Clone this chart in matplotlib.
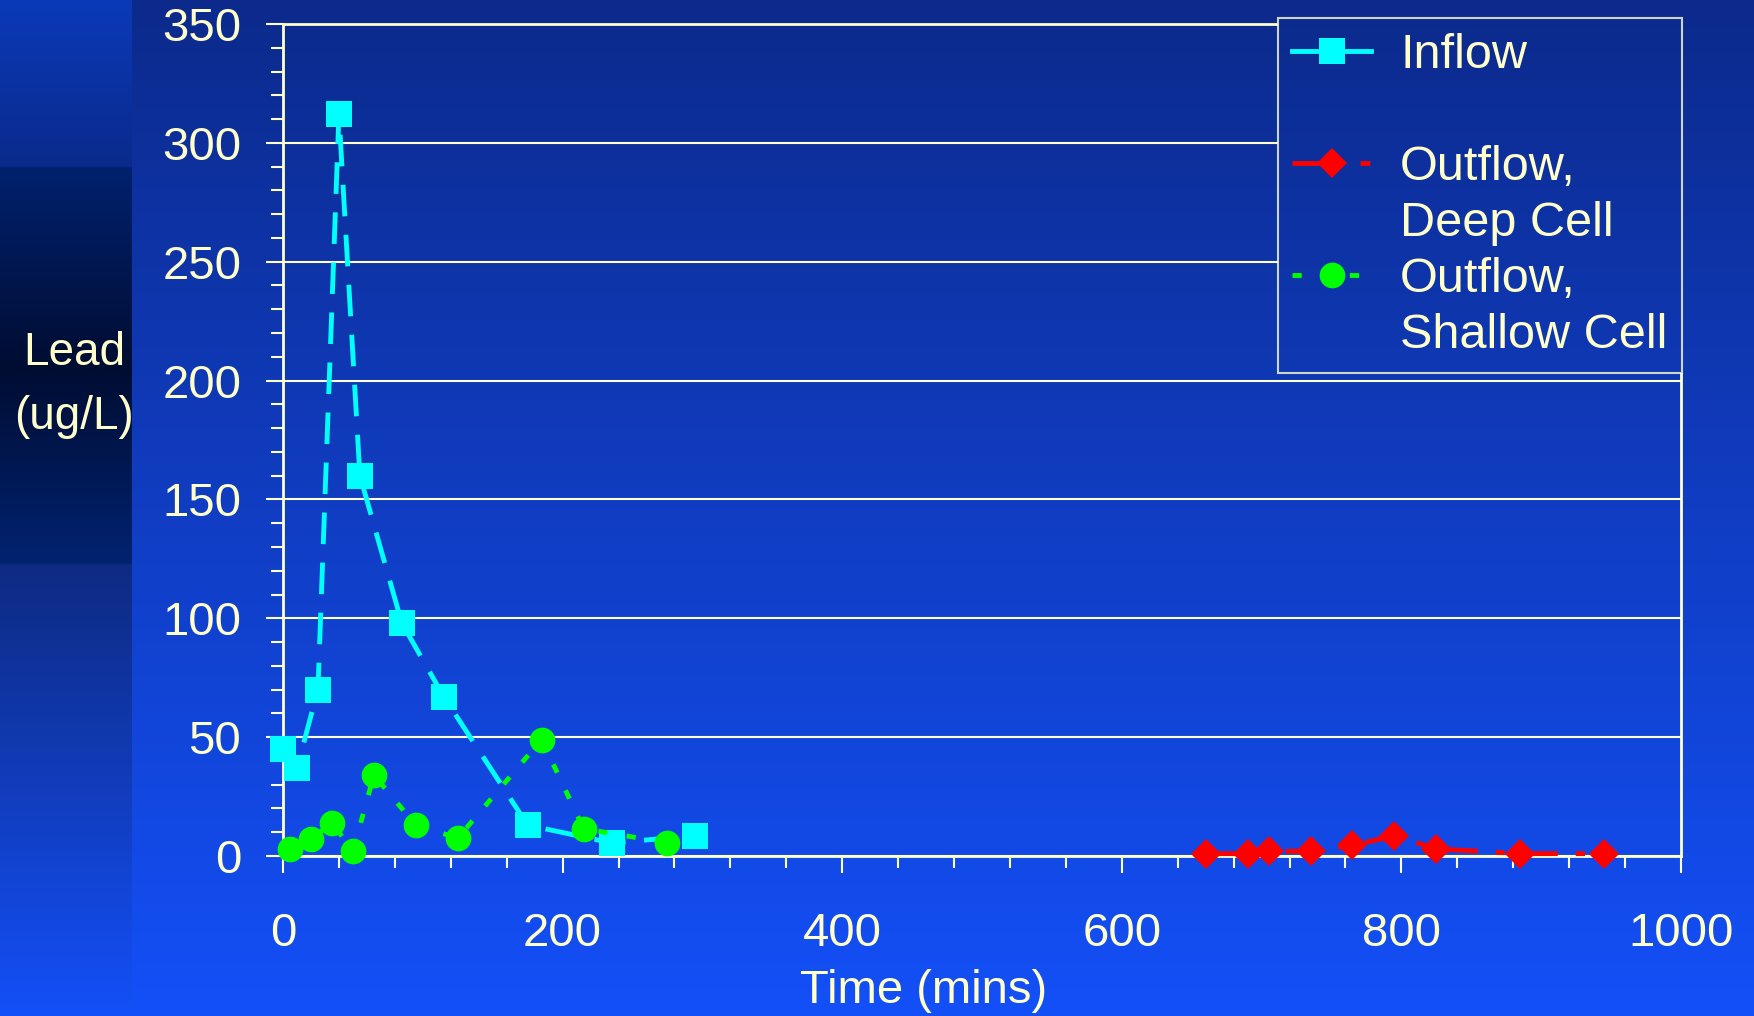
import numpy as np
import matplotlib
matplotlib.use('Agg')
import matplotlib.pyplot as plt
from matplotlib.lines import Line2D
from matplotlib.ticker import MultipleLocator

# 납 농도 (ug/L) 시간별 데이터
inflow_t = [0, 10, 25, 40, 55, 85, 115, 175, 235, 295]
inflow_pb = [45, 37, 70, 312, 160, 98, 67, 13, 5.5, 8.5]

deep_t = [660, 690, 705, 735, 765, 795, 825, 885, 945]
deep_pb = [1, 1, 2, 2, 4.5, 8.5, 3, 1, 1]

shallow_t = [5, 20, 35, 50, 65, 95, 125, 185, 215, 275]
shallow_pb = [3, 7, 14, 2, 34, 13, 7.5, 49, 11.5, 5.5]

labels = ['Inflow', ' ', 'Outflow,', 'Deep Cell', 'Outflow,', 'Shallow Cell']

CREAM = '#FFFFCC'
CYAN = '#00FFFF'
RED = '#FF0000'
GREEN = '#00FF00'

plt.rcParams['font.family'] = ['Liberation Sans', 'DejaVu Sans']

W, H = 1754, 1016


def background():
    # 슬라이드 배경 그라데이션 (왼쪽 띠는 따로)
    yy = np.arange(H)
    top = np.array([12, 42, 140])
    bot = np.array([20, 80, 248])
    main = top + (bot - top) * (yy / (H - 1))[:, None]
    sy = [0, 165, 168, 367, 562, 565, 1015]
    sr = [10, 11, 0, 0, 0, 14, 20]
    sg = [58, 42, 33, 13, 35, 42, 80]
    sb = [184, 140, 110, 50, 112, 130, 248]
    strip = np.stack([np.interp(yy, sy, sr), np.interp(yy, sy, sg), np.interp(yy, sy, sb)], axis=1)
    img = np.repeat(main[:, None, :], W, axis=1)
    img[:, :132] = strip[:, None, :]
    return img.astype(np.uint8)


bg_img = background()

fig = plt.figure(figsize=(W / 100, H / 100), dpi=100)
bg = fig.add_axes([0, 0, 1, 1], zorder=-1)
bg.imshow(bg_img, extent=(0, W, H, 0), aspect='auto')
bg.set_xlim(0, W)
bg.set_ylim(H, 0)
bg.axis('off')

ax = fig.add_axes([283 / W, 1 - 856 / H, 1398 / W, 832 / H])
ax.patch.set_visible(False)

LW = 3.5
ax.plot(inflow_t, inflow_pb, color=CYAN, lw=LW, ls=(0, (6.5, 3.8)),
        marker='s', ms=18.5, mew=0, zorder=3, clip_on=False)
ax.plot(deep_t, deep_pb, color=RED, lw=LW, ls=(0, (7.2, 3.7, 1.9, 3.7)),
        marker='D', ms=15, mew=0, zorder=4, clip_on=False)
ax.plot(shallow_t, shallow_pb, color=GREEN, lw=LW, ls=(0, (1.9, 4)),
        marker='o', ms=18.5, mew=0, zorder=5, clip_on=False)

ax.set_xlim(0, 1000)
ax.set_ylim(0, 350)
ax.xaxis.set_major_locator(MultipleLocator(200))
ax.xaxis.set_minor_locator(MultipleLocator(40))
ax.yaxis.set_major_locator(MultipleLocator(50))
ax.yaxis.set_minor_locator(MultipleLocator(10))

ax.grid(axis='y', which='major', color=CREAM, lw=1.5)
ax.set_axisbelow(True)
for s in ax.spines.values():
    s.set_color(CREAM)
    s.set_linewidth(2)

ax.tick_params(which='both', direction='out', color=CREAM, labelcolor=CREAM,
               width=1.5, labelsize=34)
ax.tick_params(which='major', length=12)
ax.tick_params(which='minor', length=8.6)
ax.tick_params(axis='x', pad=28)
ax.tick_params(axis='y', pad=18)

ax.set_xlabel('Time (mins)', fontsize=34, color=CREAM, labelpad=10)
ax.xaxis.label.set_x(0.458)
ax.set_ylabel('Lead\n(ug/L)', fontsize=33, color=CREAM, rotation=0,
              ha='center', va='center', linespacing=1.58)
ax.yaxis.set_label_coords(-0.1495, 0.566)

# 범례 (빈 줄은 보이지 않는 핸들)
handles = [
    Line2D([], [], color=CYAN, lw=LW, marker='s', ms=18.5, mew=0),
    Line2D([], [], color='none'),
    Line2D([], [], color=RED, lw=LW, ls=(0, (6.8, 7.2, 2, 9)), marker='D', ms=15, mew=0),
    Line2D([], [], color='none'),
    Line2D([], [], color=GREEN, lw=LW, ls=(0, (1.9, 4)), marker='o', ms=18.5, mew=0),
    Line2D([], [], color='none'),
]
leg = fig.legend(handles, labels, loc='upper right',
                 bbox_to_anchor=(1682 / W, 1 - 18 / H), bbox_transform=fig.transFigure,
                 borderaxespad=0, fontsize=35, labelcolor=CREAM, frameon=True,
                 fancybox=False, facecolor='none', edgecolor=CREAM, framealpha=None,
                 borderpad=0.3, handlelength=1.62, handletextpad=0.6, labelspacing=0.23)
leg.get_frame().set_linewidth(1.5)

# 범례 아래 격자선 가리기
fig.canvas.draw()
bb = leg.get_window_extent()
cover = fig.add_axes(bb.transformed(fig.transFigure.inverted()).bounds, zorder=1)
cover.imshow(bg_img, extent=(0, W, H, 0), aspect='auto')
cover.set_xlim(bb.x0, bb.x1)
cover.set_ylim(H - bb.y0, H - bb.y1)
cover.axis('off')

fig.savefig('out.png', dpi=100)
